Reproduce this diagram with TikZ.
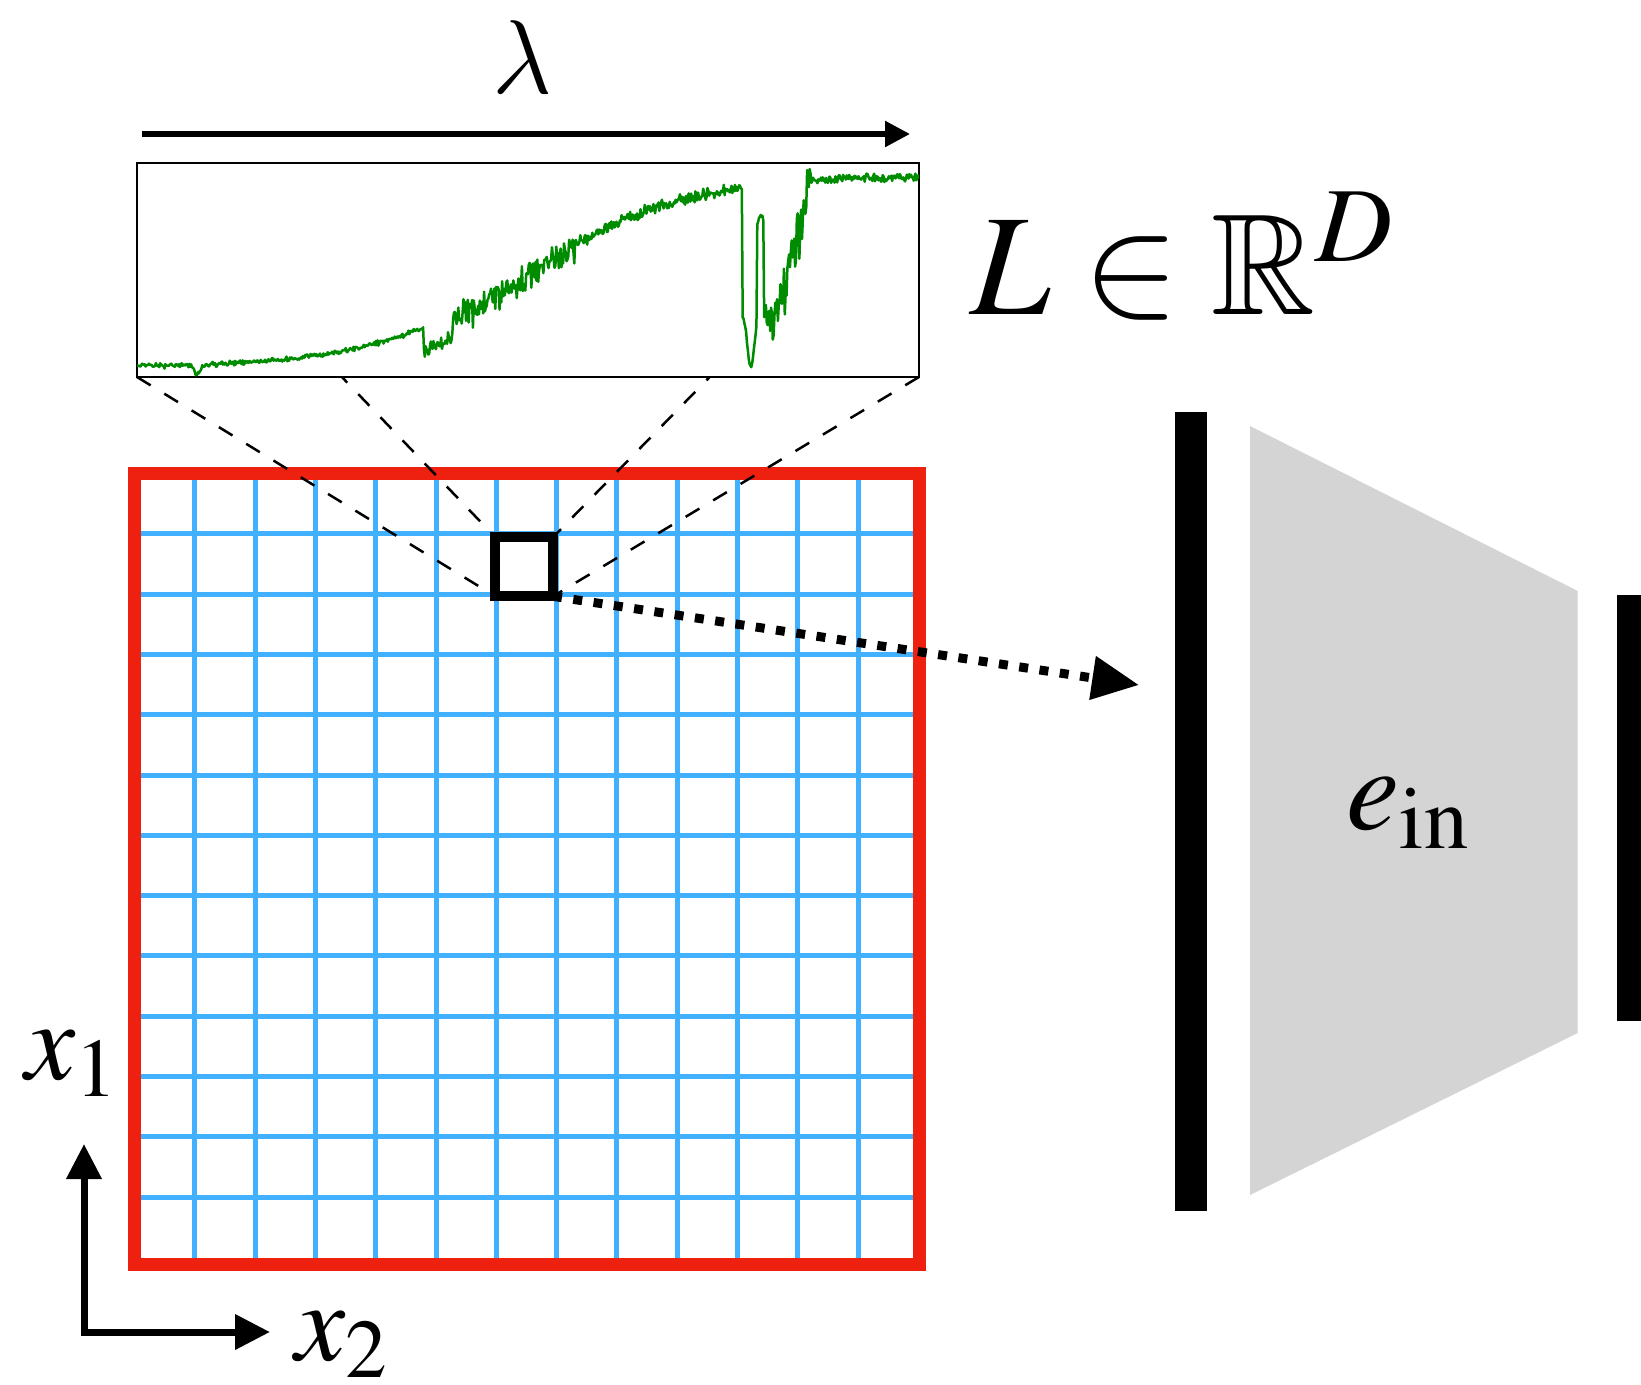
\documentclass[tikz,border=0pt]{standalone}
\usepackage{mathptmx}
\usepackage{amsmath,amssymb}
\usepackage{tikz}
\usetikzlibrary{arrows.meta}
\usepackage{xcolor}

\DeclareSymbolFont{lmletters}{OML}{lmm}{m}{it}
\DeclareMathSymbol{\lmlambda}{\mathord}{lmletters}{"15}

\definecolor{framered}{RGB}{238,33,16}
\definecolor{gridblue}{RGB}{64,176,255}
\definecolor{specgreen}{RGB}{0,140,0}
\definecolor{encgray}{RGB}{212,212,212}

\pgfdeclarelayer{background}
\pgfsetlayers{background,main}

\begin{document}
\begin{tikzpicture}[x=0.1mm,y=-0.1mm,
  gridline/.style={gridblue,line width=0.5mm},
  zoomline/.style={dash pattern=on 1.6mm off 1.6mm,line width=0.25mm},
  specbox/.style={draw,fill=white,line width=0.2mm,inner sep=0,outer sep=0,
    minimum width=78.2mm,minimum height=21.4mm},
  cellbox/.style={draw,line width=1mm,inner sep=0,outer sep=0,
    minimum width=5.77mm,minimum height=5.91mm},
  dotarrow/.style={line width=0.9mm,dash pattern=on 0.9mm off 1.15mm,
    -{Triangle[length=4.7mm,width=4.2mm]}},
  axisline/.style={line width=0.7mm,
    {Triangle[length=3.5mm,width=3.4mm]}-{Triangle[length=3.5mm,width=3.4mm]}},
  declare function={
    sbase(\t)=0.05+0.9/(1+exp(-10*(\t-0.5)));
    win(\t,\ta,\tb)=(\t>\ta)*(\t<\tb);
    gdip(\t,\tc,\ts)=exp(-(min(abs((\t-\tc)/\ts),3)^2));
    famp(\t)=0.02+0.04*win(\t,0.366,0.405)+0.1*win(\t,0.405,0.56)
      +0.025*win(\t,0.56,0.77)+0.2*win(\t,0.80,0.862)+0.012*win(\t,0.862,1.01);
    spec(\t)=sbase(\t)-0.05*gdip(\t,0.077,0.005)-0.1*win(\t,0.366,0.404)
      -0.6*win(\t,0.774,0.7925)-0.25*gdip(\t,0.785,0.006)
      -0.15*win(\t,0.7925,0.801)
      -0.6*win(\t,0.801,0.862)*(1-min(max((\t-0.815)/0.045,0),1))
      +famp(\t)*(0.45*rand-0.55*rnd);
  }]
\useasboundingbox (0,0) rectangle (1641,1384);

% wavelength axis
\coordinate (lamL) at (142,134);
\coordinate (lamR) at (910,134);
\draw[line width=0.55mm,-{Triangle[length=2.5mm,width=2.5mm]}] (lamL) -- (lamR);
\node[anchor=base,inner sep=0,font=\Huge,scale=1.2] (lam) at (522,93) {$\lmlambda$};

% spectrum of one pixel
\node[specbox] (spec) at (528,270) {};
\begin{scope}[shift={(spec.south west)},x=78.2mm,y=21.4mm]
\clip (0,0) rectangle (1,1);
\pgfmathsetseed{11}
\draw[specgreen,line width=0.25mm,line join=round]
  plot[domain=0:1,samples=900,variable=\t] (\t,{spec(\t)});
\end{scope}
\node[anchor=base west,inner sep=0,font=\fontsize{41}{48}\selectfont] (dim) at (970,314) {$L\in\mathbb{R}^D$};

% selected pixel
\node[cellbox] (cell) at (524.15,566.75) {};

\begin{pgfonlayer}{background}
\foreach \i in {1,...,12}{
  \draw[gridline] ({134.5+60.3*\i},473.5) -- ++(0,790.5);
  \draw[gridline] (134.5,{473.5+60.3*\i}) -- ++(784.5,0);
}
\draw[framered,line width=1.3mm] (134.5,473.5) rectangle (919,1264);
\foreach \c in {north west,north east,south west,south east}
  \draw[zoomline] (spec.\c) -- (cell.\c);
\end{pgfonlayer}

% into the encoder
\coordinate (tip) at (1139,685);
\draw[dotarrow] (cell.south east) -- (tip);
\fill (1175,411.5) rectangle (1207,1210.7);
\fill[encgray] (1250,426) -- (1577.7,591) -- (1577.7,1033) -- (1250,1195) -- cycle;
\fill (1617,594.6) rectangle (1650,1020.8);
\node[anchor=base west,inner sep=0,font=\fontsize{34}{40}\selectfont] (ein) at (1346,829) {$e_{\mathrm{in}}$};

% spatial axes
\coordinate (origin) at (84,1332);
\coordinate (xonetip) at (84,1144);
\coordinate (xtwotip) at (270,1332);
\draw[axisline] (xonetip) -- (origin) -- (xtwotip);
\node[anchor=base west,inner sep=0,font=\fontsize{32}{38}\selectfont] (xone) at (25,1079) {$x_1$};
\node[anchor=base west,inner sep=0,font=\fontsize{32}{38}\selectfont] (xtwo) at (295,1360) {$x_2$};
\end{tikzpicture}
\end{document}
